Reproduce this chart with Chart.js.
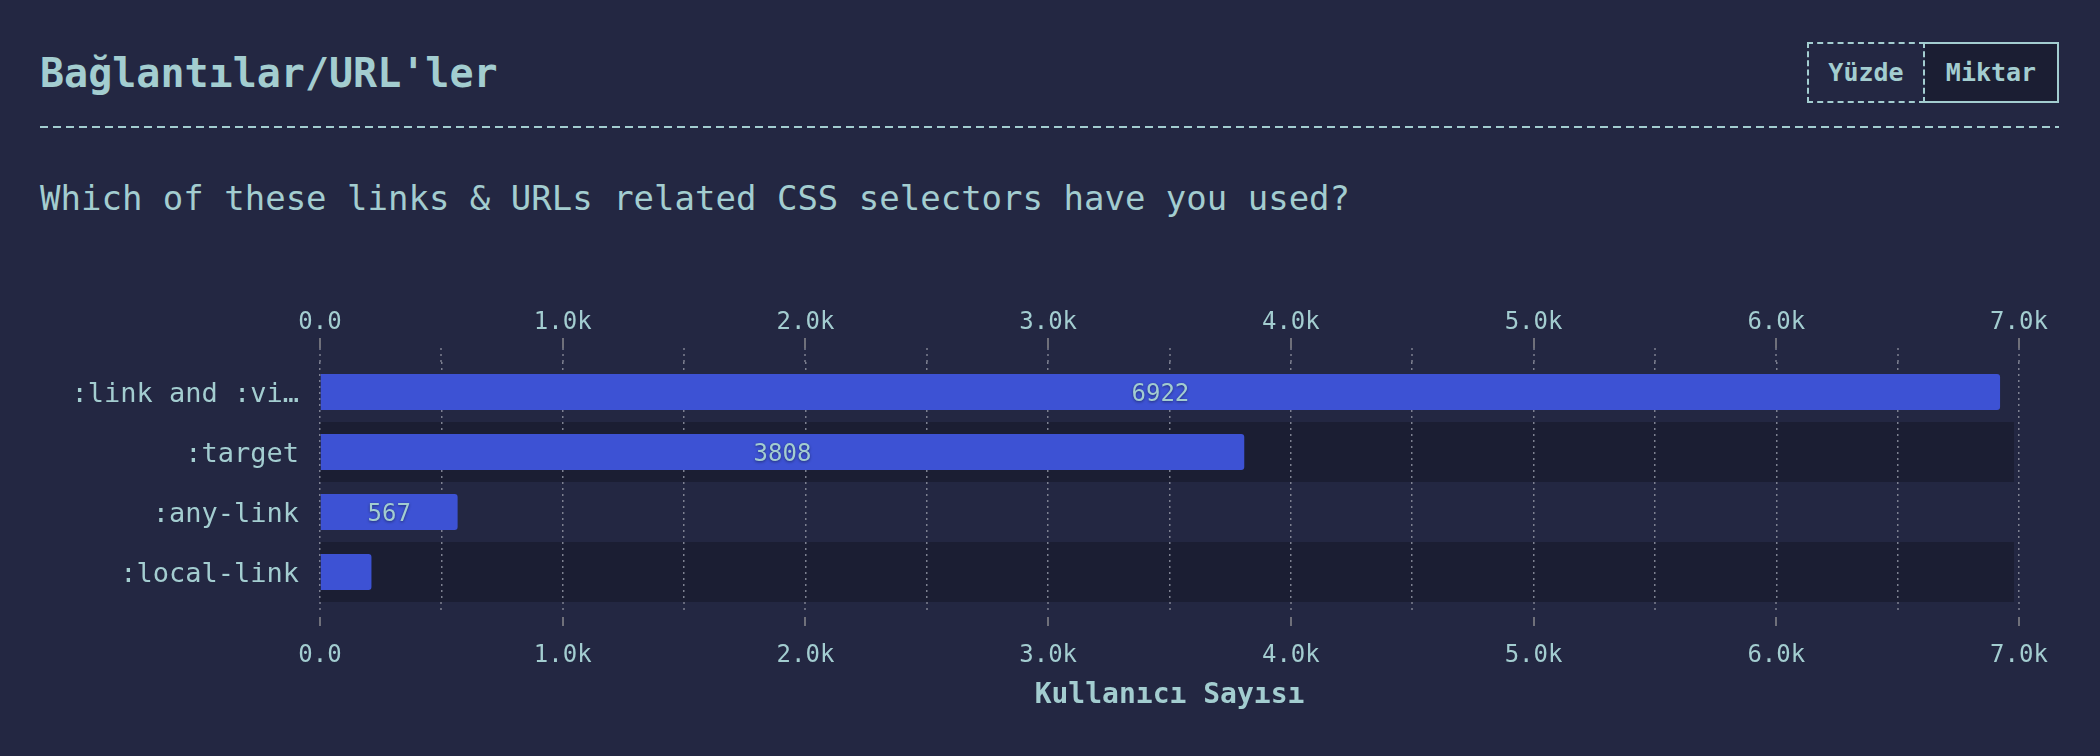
<!DOCTYPE html>
<html lang="tr">
<head>
<meta charset="utf-8">
<title>Bağlantılar/URL'ler</title>
<script src="https://cdn.jsdelivr.net/npm/chart.js@4"></script>
<style>
  html, body { margin: 0; padding: 0; }
  body {
    width: 2100px; height: 756px; overflow: hidden; position: relative;
    background: #232742; color: #a3cdd0;
    font-family: 'DejaVu Sans Mono', monospace;
  }
  .title { position: absolute; left: 40px; top: 53px; font-size: 40px; line-height: 40px; font-weight: bold; white-space: nowrap; }
  .rule {
    position: absolute; left: 40px; top: 126px; width: 2019px; height: 2px;
    background: repeating-linear-gradient(to right, #a3cdd0 0 8px, transparent 8px 13px);
  }
  .question { position: absolute; left: 40px; top: 181px; font-size: 34px; line-height: 34px; white-space: nowrap; }
  .toggle { position: absolute; left: 1807px; top: 42px; height: 61px; display: flex; }
  .toggle div {
    box-sizing: border-box; height: 61px; display: flex; align-items: center; justify-content: center;
    font-size: 25px; font-weight: bold;
  }
  .toggle .pct { width: 118px; border: 2px dashed #a3cdd0; }
  .toggle .abs { width: 134px; border: 2px solid #a3cdd0; border-left: none; background: #1b1e33; }
  .chart-box { position: absolute; left: 0; top: 290px; width: 2100px; height: 466px; }
</style>
</head>
<body>
<div class="title">Bağlantılar/URL'ler</div>
<div class="toggle"><div class="pct">Yüzde</div><div class="abs">Miktar</div></div>
<div class="rule"></div>
<div class="question">Which of these links &amp; URLs related CSS selectors have you used?</div>
<div class="chart-box"><canvas id="linksChart"></canvas></div>

<script>
// Data
const categories = [':link and :visited', ':target', ':any-link', ':local-link'];
const userCounts = [6922, 3808, 567, 212];
const tickLabels = ['0.0', '1.0k', '2.0k', '3.0k', '4.0k', '5.0k', '6.0k', '7.0k'];
const axisTitle = 'Kullanıcı Sayısı';

const TEXT = '#a3cdd0';
const BAR = '#3d52d4';
const BAND_DARK = '#1b1e33';
const GRID = '#7d8090';
const TICK = '#8a8a8e';

Chart.defaults.font.family = "'DejaVu Sans Mono', monospace";
Chart.defaults.color = TEXT;

// every other row gets a darker band behind it
const rowBands = {
    id: 'rowBands',
    beforeDraw(chart) {
        const { ctx, chartArea } = chart;
        const y = chart.scales.y;
        const half = (y.getPixelForValue(1) - y.getPixelForValue(0)) / 2;
        ctx.save();
        ctx.fillStyle = BAND_DARK;
        categories.forEach((c, i) => {
            if (i % 2 === 0) return;
            const mid = y.getPixelForValue(i);
            ctx.fillRect(chartArea.left, mid - half, chartArea.right - chartArea.left - 5, half * 2);
        });
        ctx.restore();
    }
};

// grid lines poke out above/below the bands, majors get a solid tick
const tickMarks = {
    id: 'tickMarks',
    afterDraw(chart) {
        const { ctx, chartArea } = chart;
        const x = chart.scales.x;
        const seg = (px, a, b) => { ctx.beginPath(); ctx.moveTo(px, a); ctx.lineTo(px, b); ctx.stroke(); };
        ctx.save();
        ctx.lineWidth = 1.5;
        x.ticks.forEach(t => {
            const px = Math.round(x.getPixelForValue(t.value));
            ctx.strokeStyle = GRID;
            ctx.setLineDash([2, 4]);
            seg(px, chartArea.top - 14, chartArea.top);
            seg(px, chartArea.bottom, chartArea.bottom + 11);
            if (t.value % 1000 === 0) {
                ctx.setLineDash([]);
                ctx.strokeStyle = TICK;
                seg(px, chartArea.top - 24, chartArea.top - 14);
                seg(px, chartArea.bottom + 15, chartArea.bottom + 24);
            }
        });
        ctx.restore();
    }
};

// value inside the bar when there is room for it
const barValues = {
    id: 'barValues',
    afterDatasetsDraw(chart) {
        const { ctx } = chart;
        const meta = chart.getDatasetMeta(0);
        ctx.save();
        ctx.font = "24px 'DejaVu Sans Mono', monospace";
        ctx.fillStyle = TEXT;
        ctx.textAlign = 'center';
        ctx.textBaseline = 'middle';
        ctx.shadowColor = 'rgba(0, 0, 0, 0.45)';
        ctx.shadowBlur = 3;
        ctx.shadowOffsetY = 1;
        meta.data.forEach((bar, i) => {
            if (Math.abs(bar.x - bar.base) < 80) return;
            ctx.fillText(String(userCounts[i]), (bar.x + bar.base) / 2, bar.y + 3);
        });
        ctx.restore();
    }
};

const tickText = (value, index) => (index % 2 === 0 ? tickLabels[index / 2] : '');

new Chart(document.getElementById('linksChart').getContext('2d'), {
    type: 'bar',
    data: {
        labels: categories,
        datasets: [{
            data: userCounts,
            backgroundColor: BAR,
            borderRadius: 3,
            borderSkipped: 'start',
            categoryPercentage: 1,
            barPercentage: 0.6,
            xAxisID: 'x'
        }]
    },
    options: {
        indexAxis: 'y',
        responsive: true,
        maintainAspectRatio: false,
        animation: false,
        layout: { padding: { top: 0, bottom: 0, left: 0, right: 81 } },
        plugins: { legend: { display: false }, tooltip: { enabled: false } },
        scales: {
            x: {
                position: 'bottom',
                min: 0, max: 7000,
                ticks: { stepSize: 500, autoSkip: false, maxRotation: 0, padding: 15, font: { size: 24 }, color: TEXT, callback: tickText },
                grid: { color: GRID, lineWidth: 1.5, borderDash: [2, 4], tickColor: 'transparent', tickLength: 24 },
                border: { display: false, dash: [2, 4] },
                title: { display: true, text: axisTitle, color: TEXT, font: { size: 28, weight: 'bold' }, padding: { top: 0, bottom: 43 } },
                afterFit(s) { s.height = 154; }
            },
            x2: {
                position: 'top',
                min: 0, max: 7000,
                ticks: { stepSize: 500, autoSkip: false, maxRotation: 0, padding: 1, font: { size: 24 }, color: TEXT, callback: tickText },
                grid: { drawOnChartArea: false, tickColor: 'transparent', tickLength: 24 },
                border: { display: false },
                afterFit(s) { s.height = 72; }
            },
            y: {
                ticks: {
                    padding: 21, labelOffset: 3, font: { size: 27 }, color: TEXT,
                    callback(value, index) {
                        const s = categories[index];
                        return s.length > 14 ? s.slice(0, 13) + '…' : s;
                    }
                },
                grid: { display: false, drawTicks: false },
                border: { display: false },
                afterFit(s) { s.width = 320; }
            }
        }
    },
    plugins: [rowBands, tickMarks, barValues]
});
</script>
</body>
</html>
